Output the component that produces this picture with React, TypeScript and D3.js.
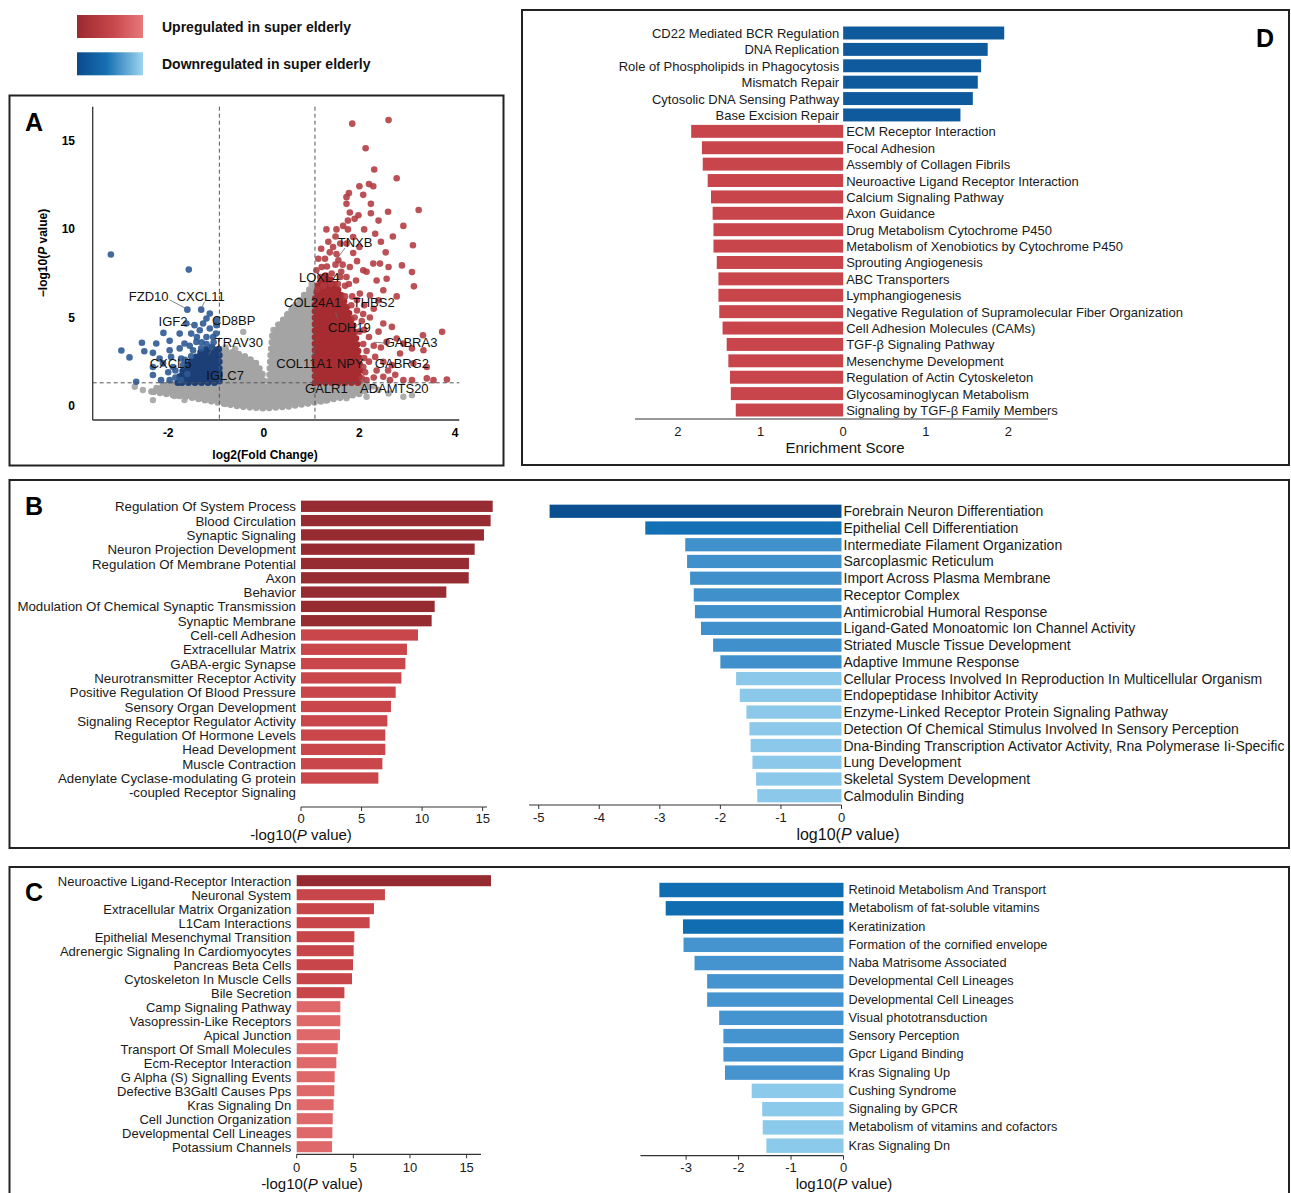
import React from 'react';
import * as d3 from 'd3';

const FONT = "'Liberation Sans', Arial, Helvetica, sans-serif";

// legend
const legendItems = ['Upregulated in super elderly', 'Downregulated in super elderly'];

// ---------- panel A : volcano plot ----------
const fcCutoffs = [-0.93, 1.07];
const pCutoff = 1.3;
const xTicksA = [-2, 0, 2, 4];
const yTicksA = [0, 5, 10, 15];

// outline of the dense grey (not significant) cloud, [log2FC, -log10 p]
const greyCloud: [number, number][] = [
  [-2.35, 0.8], [-2.3, 0.95], [-2.0, 1.25], [-0.93, 1.3], [-0.93, 3.2], [-0.6, 3.0], [-0.35, 2.75],
  [-0.15, 2.4], [-0.03, 1.8], [0.03, 1.0], [0.07, 0.5], [0.11, 1.3], [0.14, 2.8], [0.18, 4.0],
  [0.35, 4.7], [0.6, 5.5], [0.85, 6.3], [1.07, 6.7], [1.07, 1.3], [2.0, 1.3], [2.2, 1.05],
  [2.05, 0.7], [1.6, 0.45], [1.0, 0.15], [0.5, -0.05], [0.0, -0.15], [-0.5, -0.05], [-1.0, 0.2],
  [-1.5, 0.45], [-2.0, 0.65],
];
const greyPoints: [number, number][] = [
  [-2.53, 0.89], [-2.7, 1.08], [-2.32, 0.32], [-2.04, 0.7], [-1.87, 0.55], [-1.66, 0.32], [-1.34, 0.42],
  [-1.06, 0.7], [-0.64, 0.23], [2.15, 0.51], [2.92, 0.51], [3.1, 0.6], [2.61, 0.7], [1.98, 0.79],
  [-0.43, 4.19], [1.73, 0.42], [-1.2, 0.35], [-0.8, 0.1], [1.3, 0.3], [1.8, 0.6], [2.3, 1.1],
  [-0.2, 2.3], [-0.6, 3.2], [0.3, 4.6], [0.7, 5.7], [0.95, 6.6], [-2.1, 0.95], [-1.75, 0.9],
  [-0.8, 3.3], [0.5, 5.2], [1.0, 6.9], [0.2, 4.3], [-0.3, 2.6], [2.4, 0.9],
];

// dense blue (down) core and single blue genes
const blueCloud: [number, number][] = [
  [-1.8, 1.3], [-1.75, 1.8], [-1.6, 2.3], [-1.45, 2.7], [-1.3, 3.1], [-1.1, 3.3], [-0.93, 3.2], [-0.93, 1.3],
];
const bluePoints: [number, number][] = [
  [-3.2, 8.58], [-1.57, 7.72], [-1.6, 5.45], [-1.31, 5.45], [-1.13, 5.23], [-0.98, 4.85], [-1.62, 4.66],
  [-1.45, 4.57], [-1.27, 4.66], [-1.13, 4.38], [-0.99, 4.57], [-2.1, 4.13], [-1.76, 4.09], [-1.52, 4.09],
  [-1.34, 4.28], [-1.2, 3.9], [-1.06, 3.9], [-2.55, 3.57], [-2.25, 3.53], [-1.97, 3.68], [-1.66, 3.53],
  [-1.41, 3.62], [-2.98, 3.13], [-2.5, 3.09], [-2.32, 3.0], [-1.97, 3.15], [-1.76, 3.25], [-1.48, 3.15],
  [-1.31, 3.25], [-1.1, 3.34], [-2.81, 2.74], [-2.18, 2.68], [-1.94, 2.77], [-1.73, 2.68], [-1.52, 2.81],
  [-2.32, 2.2], [-2.11, 2.4], [-1.9, 2.2], [-1.69, 2.3], [-2.67, 1.36], [-2.32, 1.74], [-2.15, 1.45],
  [-1.97, 1.45], [-1.73, 1.45], [-1.0, 4.1], [-1.2, 4.95], [-1.4, 3.9], [-1.55, 3.4], [-1.85, 2.0],
  [-2.0, 1.9], [-1.6, 1.8], [-1.3, 3.6], [-1.05, 3.6], [-1.85, 1.6], [-1.65, 2.6], [-1.2, 3.5],
];

// dense red (up) core and single red genes
const redCloud: [number, number][] = [
  [1.07, 1.3], [1.07, 6.0], [1.15, 7.0], [1.3, 7.4], [1.45, 7.0], [1.6, 6.4], [1.75, 5.5],
  [1.88, 4.5], [1.97, 3.2], [2.02, 2.0], [1.98, 1.3],
];
const redPoints: [number, number][] = [
  [2.61, 16.2], [1.85, 16.0], [2.13, 14.6], [2.31, 13.4], [2.78, 12.9], [2.0, 12.45], [2.2, 12.57],
  [2.29, 12.45], [1.78, 12.06], [1.73, 11.83], [2.08, 11.96], [1.73, 11.45], [2.24, 11.45], [3.24, 11.1],
  [1.8, 10.96], [1.98, 10.8], [2.24, 10.92], [1.76, 10.5], [1.66, 10.2], [2.92, 10.2], [1.31, 10.0],
  [1.52, 10.0], [1.76, 10.0], [2.1, 10.0], [2.33, 9.75], [1.87, 9.57], [3.12, 9.1], [1.45, 9.0],
  [1.6, 9.2], [1.73, 9.2], [1.38, 8.7], [1.52, 8.6], [1.87, 8.66], [1.14, 8.34], [1.28, 8.34],
  [1.56, 8.25], [2.29, 8.06], [2.43, 8.06], [2.89, 7.96], [2.61, 7.87], [1.8, 7.87], [2.08, 7.68],
  [2.15, 7.6], [3.1, 7.58], [1.21, 7.87], [1.1, 7.68], [1.42, 7.5], [1.6, 7.3], [1.73, 7.3],
  [1.93, 7.1], [2.36, 7.1], [2.57, 7.2], [3.14, 6.77], [2.5, 6.55], [2.78, 6.2], [2.01, 6.36],
  [2.22, 6.26], [2.4, 5.98], [1.95, 6.0], [2.1, 5.7], [2.3, 5.5], [2.08, 5.2], [2.22, 5.0],
  [2.5, 4.66], [2.68, 4.47], [3.73, 4.19], [3.33, 4.0], [2.92, 3.53], [2.78, 3.81], [2.57, 3.62],
  [3.1, 3.25], [3.34, 3.15], [2.85, 2.96], [2.33, 2.77], [2.5, 2.49], [2.68, 2.3], [3.13, 2.4],
  [3.41, 2.2], [2.08, 2.2], [2.36, 2.0], [2.92, 1.45], [3.1, 1.45], [3.41, 1.55], [3.55, 1.45],
  [3.83, 1.49], [2.64, 1.45], [2.5, 1.64], [2.15, 1.45], [2.05, 1.55], [2.1, 4.3], [2.2, 3.9],
  [2.3, 3.4], [2.15, 3.1], [2.4, 4.2], [2.05, 4.8], [1.95, 5.4], [1.85, 6.2], [1.7, 6.8], [2.2, 2.5],
  [2.45, 3.3], [2.6, 2.0], [2.75, 1.75], [2.3, 1.6], [1.95, 8.2], [1.65, 8.0], [1.35, 9.3], [1.2, 8.9],
  [1.5, 9.6], [2.0, 9.0], [2.45, 9.3], [2.55, 8.7], [1.9, 10.6], [2.4, 10.5], [2.6, 11.0], [2.7, 9.6],
  [1.25, 6.8], [1.4, 6.9], [1.18, 7.3], [1.32, 7.9], [1.5, 8.0], [1.62, 7.6], [1.78, 6.9], [1.83, 5.7],
  [1.9, 5.0], [2.0, 4.2], [2.08, 3.5], [2.1, 2.7], [2.12, 1.9], [1.12, 6.6], [1.55, 6.9], [1.7, 6.2],
];

// gene annotations: label centre and leader line (both in data units)
const geneLabels: { gene: string; x: number; y: number }[] = [
  { gene: 'TNXB', x: 1.91, y: 9.23 }, { gene: 'LOXL4', x: 1.16, y: 7.3 },
  { gene: 'COL24A1', x: 1.02, y: 5.83 }, { gene: 'THBS2', x: 2.3, y: 5.83 },
  { gene: 'CDH19', x: 1.79, y: 4.41 }, { gene: 'GABRA3', x: 3.08, y: 3.56 },
  { gene: 'GABRG2', x: 2.89, y: 2.37 }, { gene: 'COL11A1', x: 0.85, y: 2.37 },
  { gene: 'NPY', x: 1.81, y: 2.37 }, { gene: 'GALR1', x: 1.31, y: 1.0 },
  { gene: 'ADAMTS20', x: 2.73, y: 1.0 }, { gene: 'FZD10', x: -2.41, y: 6.17 },
  { gene: 'CXCL11', x: -1.32, y: 6.17 }, { gene: 'IGF2', x: -1.9, y: 4.75 },
  { gene: 'CD8BP', x: -0.63, y: 4.86 }, { gene: 'TRAV30', x: -0.52, y: 3.56 },
  { gene: 'CXCL5', x: -1.95, y: 2.42 }, { gene: 'IGLC7', x: -0.81, y: 1.74 },
];
const leaders: [number, number, number, number][] = [
  [-1.97, 6.0, -1.62, 5.5], [-1.24, 5.9, -1.31, 5.5], [-1.57, 4.63, -1.45, 4.57],
  [-1.07, 3.27, -1.15, 2.9], [1.7, 8.95, 1.55, 8.4], [2.52, 3.56, 2.3, 3.6],
  [1.0, 2.8, 1.07, 3.2], [2.18, 1.29, 2.05, 1.55], [1.55, 4.9, 1.5, 5.3],
];

// ---------- panel B ----------
const bUpTerms = [
  'Regulation Of System Process', 'Blood Circulation', 'Synaptic Signaling', 'Neuron Projection Development',
  'Regulation Of Membrane Potential', 'Axon', 'Behavior', 'Modulation Of Chemical Synaptic Transmission',
  'Synaptic Membrane', 'Cell-cell Adhesion', 'Extracellular Matrix', 'GABA-ergic Synapse',
  'Neurotransmitter Receptor Activity', 'Positive Regulation Of Blood Pressure', 'Sensory Organ Development',
  'Signaling Receptor Regulator Activity', 'Regulation Of Hormone Levels', 'Head Development',
  'Muscle Contraction', 'Adenylate Cyclase-modulating G protein\n-coupled Receptor Signaling',
];
const bUpValues = [15.83, 15.66, 15.11, 14.34, 13.87, 13.85, 12.0, 11.04, 10.79, 9.66, 8.75, 8.62, 8.29, 7.82, 7.43, 7.13, 6.96, 6.96, 6.72, 6.39];

const bDownTerms = [
  'Forebrain Neuron Differentiation', 'Epithelial Cell Differentiation', 'Intermediate Filament Organization',
  'Sarcoplasmic Reticulum', 'Import Across Plasma Membrane', 'Receptor Complex', 'Antimicrobial Humoral Response',
  'Ligand-Gated Monoatomic Ion Channel Activity', 'Striated Muscle Tissue Development', 'Adaptive Immune Response',
  'Cellular Process Involved In Reproduction In Multicellular Organism', 'Endopeptidase Inhibitor Activity',
  'Enzyme-Linked Receptor Protein Signaling Pathway', 'Detection Of Chemical Stimulus Involved In Sensory Perception',
  'Dna-Binding Transcription Activator Activity, Rna Polymerase Ii-Specific', 'Lung Development',
  'Skeletal System Development', 'Calmodulin Binding',
];
const bDownValues = [-4.82, -3.24, -2.58, -2.55, -2.5, -2.44, -2.42, -2.32, -2.12, -2.0, -1.74, -1.68, -1.57, -1.52, -1.5, -1.47, -1.41, -1.39];

// ---------- panel C ----------
const cUpTerms = [
  'Neuroactive Ligand-Receptor Interaction', 'Neuronal System', 'Extracellular Matrix Organization',
  'L1Cam Interactions', 'Epithelial Mesenchymal Transition', 'Adrenergic Signaling In Cardiomyocytes',
  'Pancreas Beta Cells', 'Cytoskeleton In Muscle Cells', 'Bile Secretion', 'Camp Signaling Pathway',
  'Vasopressin-Like Receptors', 'Apical Junction', 'Transport Of Small Molecules', 'Ecm-Receptor Interaction',
  'G Alpha (S) Signalling Events', 'Defective B3Galtl Causes Pps', 'Kras Signaling Dn',
  'Cell Junction Organization', 'Developmental Cell Lineages', 'Potassium Channels',
];
const cUpValues = [17.15, 7.79, 6.82, 6.44, 5.09, 5.03, 4.97, 4.88, 4.21, 3.85, 3.85, 3.82, 3.62, 3.5, 3.35, 3.32, 3.26, 3.18, 3.15, 3.12];

const cDownTerms = [
  'Retinoid Metabolism And Transport', 'Metabolism of fat-soluble vitamins', 'Keratinization',
  'Formation of the cornified envelope', 'Naba Matrisome Associated', 'Developmental Cell Lineages',
  'Developmental Cell Lineages', 'Visual phototransduction', 'Sensory Perception', 'Gpcr Ligand Binding',
  'Kras Signaling Up', 'Cushing Syndrome', 'Signaling by GPCR', 'Metabolism of vitamins and cofactors',
  'Kras Signaling Dn',
];
const cDownValues = [-3.51, -3.39, -3.06, -3.05, -2.84, -2.6, -2.6, -2.37, -2.29, -2.29, -2.26, -1.75, -1.55, -1.54, -1.47];

// ---------- panel D ----------
const dTerms = [
  'CD22 Mediated BCR Regulation', 'DNA Replication', 'Role of Phospholipids in Phagocytosis', 'Mismatch Repair',
  'Cytosolic DNA Sensing Pathway', 'Base Excision Repair', 'ECM Receptor Interaction', 'Focal Adhesion',
  'Assembly of Collagen Fibrils', 'Neuroactive Ligand Receptor Interaction', 'Calcium Signaling Pathway',
  'Axon Guidance', 'Drug Metabolism Cytochrome P450', 'Metabolism of Xenobiotics by Cytochrome P450',
  'Sprouting Angiogenesis', 'ABC Transporters', 'Lymphangiogenesis',
  'Negative Regulation of Supramolecular Fiber Organization', 'Cell Adhesion Molecules (CAMs)',
  'TGF-β Signaling Pathway', 'Mesenchyme Development', 'Regulation of Actin Cytoskeleton',
  'Glycosaminoglycan Metabolism', 'Signaling by TGF-β Family Members',
];
const dScores = [1.95, 1.75, 1.67, 1.63, 1.57, 1.42, -1.84, -1.71, -1.7, -1.64, -1.6, -1.58, -1.57, -1.57, -1.53, -1.51, -1.51, -1.5, -1.46, -1.41, -1.39, -1.37, -1.36, -1.3];

const pTitle = (prefix: string) => (
  <>
    {prefix}(<tspan fontStyle="italic">P</tspan> value)
  </>
);

type BarProps = {
  terms: string[];
  values: number[];
  color: (v: number, i: number) => string;
  xDomain: [number, number];
  xRange: [number, number];
  yRange: [number, number];
  axisY: number;
  ticks: number[];
  tickFmt?: (t: number) => string;
  tickLabelY: number;
  tickMarks: boolean;
  tickFont: number;
  labelSize: number;
  gapLeft: number;
  gapRight: number;
  title: React.ReactNode;
  titleX: number;
  titleY: number;
  titleSize: number;
};

function BarPanel(p: BarProps) {
  const x = d3.scaleLinear().domain(p.xDomain).range(p.xRange);
  const y = d3.scaleBand<number>()
    .domain(d3.range(p.terms.length))
    .range(p.yRange)
    .paddingInner(0.21)
    .paddingOuter(0.105);
  const x0 = x(0);
  const fmt = p.tickFmt || ((t: number) => String(t));
  return (
    <g fontFamily={FONT}>
      {p.values.map((v, i) => (
        <rect key={'b' + i} x={Math.min(x0, x(v))} y={y(i)} width={Math.abs(x(v) - x0)}
          height={y.bandwidth()} fill={p.color(v, i)} />
      ))}
      {p.terms.map((t, i) => {
        const right = p.values[i] < 0;
        const tx = right ? x0 + p.gapRight : x0 - p.gapLeft;
        const cy = (y(i) as number) + y.bandwidth() / 2;
        return (
          <text key={'t' + i} x={tx} y={cy} fontSize={p.labelSize} fill="#1a1a1a"
            textAnchor={right ? 'start' : 'end'} dominantBaseline="central">
            {t.split('\n').map((line, k) => (
              <tspan key={k} x={tx} dy={k === 0 ? 0 : y.step()}>{line}</tspan>
            ))}
          </text>
        );
      })}
      <line x1={p.xRange[0]} x2={p.xRange[1]} y1={p.axisY} y2={p.axisY} stroke="#333" strokeWidth={1.2} />
      {p.ticks.map((t) => (
        <g key={'k' + t}>
          {p.tickMarks && <line x1={x(t)} x2={x(t)} y1={p.axisY} y2={p.axisY + 4} stroke="#333" strokeWidth={1} />}
          <text x={x(t)} y={p.tickLabelY} fontSize={p.tickFont} textAnchor="middle"
            dominantBaseline="central" fill="#1a1a1a">{fmt(t)}</text>
        </g>
      ))}
      <text x={p.titleX} y={p.titleY} fontSize={p.titleSize} textAnchor="middle"
        dominantBaseline="central" fill="#111">{p.title}</text>
    </g>
  );
}

function Volcano() {
  const x = d3.scaleLinear().domain([-3.58, 4.09]).range([92.7, 459.3]);
  const y = d3.scaleLinear().domain([-0.81, 16.96]).range([420, 106.7]);
  const area = d3.line<[number, number]>().x((d) => x(d[0])).y((d) => y(d[1])).curve(d3.curveLinearClosed);
  const grey = '#a4a4a4';
  // a filled core whose outline is beaded with dots, like an overplotted point cloud
  const cloud = (pts: [number, number][], col: string) => (
    <g>
      <path d={area(pts) || ''} fill={col} stroke={col} strokeWidth={2} strokeLinejoin="round" />
      <path d={area(pts) || ''} fill="none" stroke={col} strokeWidth={6.6} strokeLinecap="round"
        strokeDasharray="0 6.5" />
    </g>
  );
  return (
    <g fontFamily={FONT}>
      {cloud(greyCloud, grey)}
      {greyPoints.map((d, i) => <circle key={'g' + i} cx={x(d[0])} cy={y(d[1])} r={3.2} fill={grey} opacity={0.9} />)}
      {cloud(blueCloud, '#1c3f78')}
      {bluePoints.map((d, i) => <circle key={'bl' + i} cx={x(d[0])} cy={y(d[1])} r={3.3} fill="#2d5a94" opacity={0.9} />)}
      {cloud(redCloud, '#a72c32')}
      {redPoints.map((d, i) => <circle key={'r' + i} cx={x(d[0])} cy={y(d[1])} r={3.3} fill="#b2393f" opacity={0.88} />)}
      {fcCutoffs.map((c) => (
        <line key={'fc' + c} x1={x(c)} x2={x(c)} y1={106.7} y2={420} stroke="#555" strokeWidth={1} strokeDasharray="4,3" />
      ))}
      <line x1={92.7} x2={459.3} y1={y(pCutoff)} y2={y(pCutoff)} stroke="#555" strokeWidth={1} strokeDasharray="4,3" />
      {leaders.map((l, i) => (
        <line key={'l' + i} x1={x(l[0])} y1={y(l[1])} x2={x(l[2])} y2={y(l[3])} stroke="#666" strokeWidth={0.8} />
      ))}
      {geneLabels.map((g) => (
        <text key={g.gene} x={x(g.x)} y={y(g.y)} fontSize={13} textAnchor="middle" dominantBaseline="central" fill="#111">{g.gene}</text>
      ))}
      <line x1={92.7} x2={92.7} y1={106.7} y2={420} stroke="#333" strokeWidth={1.3} />
      <line x1={92.7} x2={459.3} y1={420} y2={420} stroke="#333" strokeWidth={1.3} />
      {xTicksA.map((t) => (
        <text key={'xt' + t} x={x(t)} y={433} fontSize={12} fontWeight="bold" textAnchor="middle" dominantBaseline="central">{t}</text>
      ))}
      {yTicksA.map((t) => (
        <text key={'yt' + t} x={75} y={y(t)} fontSize={12} fontWeight="bold" textAnchor="end" dominantBaseline="central">{t}</text>
      ))}
      <text x={265} y={455} fontSize={12} fontWeight="bold" textAnchor="middle" dominantBaseline="central">log2(Fold Change)</text>
      <text transform="translate(43,253) rotate(-90)" fontSize={12} fontWeight="bold" textAnchor="middle" dominantBaseline="central">
        −log10(<tspan fontStyle="italic">P</tspan> value)
      </text>
    </g>
  );
}

export default function App() {
  return (
    <svg width={1291} height={1193} style={{ position: 'absolute', left: 0, top: 0, background: '#fff' }}
      fontFamily={FONT}>
      <defs>
        <linearGradient id="gradUp" x1="0" x2="1" y1="0" y2="0">
          <stop offset="0%" stopColor="#9b2a30" />
          <stop offset="55%" stopColor="#c8474b" />
          <stop offset="100%" stopColor="#e8797b" />
        </linearGradient>
        <linearGradient id="gradDown" x1="0" x2="1" y1="0" y2="0">
          <stop offset="0%" stopColor="#0b4a8b" />
          <stop offset="45%" stopColor="#1670b3" />
          <stop offset="100%" stopColor="#9dd4ef" />
        </linearGradient>
      </defs>
      <rect width={1291} height={1193} fill="#fff" />

      {/* legend */}
      {legendItems.map((t, i) => (
        <g key={t}>
          <rect x={77} y={15 + i * 37.3} width={66} height={23} fill={i === 0 ? 'url(#gradUp)' : 'url(#gradDown)'} />
          <text x={162} y={27 + i * 37.3} fontSize={14} fontWeight="bold" dominantBaseline="central" fill="#111">{t}</text>
        </g>
      ))}

      {/* panel frames */}
      <rect x={9.5} y={95.5} width={494} height={370} fill="none" stroke="#222" strokeWidth={2} />
      <rect x={522} y={10} width={767} height={455} fill="none" stroke="#222" strokeWidth={2} />
      <rect x={9.5} y={480} width={1279.5} height={368} fill="none" stroke="#222" strokeWidth={2} />
      <rect x={9.5} y={867} width={1279.5} height={360} fill="none" stroke="#222" strokeWidth={2} />

      <text x={25} y={131} fontSize={25} fontWeight="bold">A</text>
      <text x={25} y={515} fontSize={25} fontWeight="bold">B</text>
      <text x={25} y={901} fontSize={25} fontWeight="bold">C</text>
      <text x={1256} y={47} fontSize={25} fontWeight="bold">D</text>

      <Volcano />

      {/* D: enrichment scores */}
      <BarPanel terms={dTerms} values={dScores}
        color={(v) => (v > 0 ? '#0f5a9c' : '#c8464b')}
        xDomain={[-2.52, 2.48]} xRange={[635, 1048]} yRange={[24.8, 418.2]} axisY={419}
        ticks={[-2, -1, 0, 1, 2]} tickFmt={(t) => String(Math.abs(t))} tickLabelY={431} tickMarks={false} tickFont={13}
        labelSize={13} gapLeft={4} gapRight={3}
        title="Enrichment Score" titleX={845} titleY={447} titleSize={15} />

      {/* B left: up */}
      <BarPanel terms={bUpTerms} values={bUpValues}
        color={(v, i) => (i < 9 ? '#962b31' : '#c9474b')}
        xDomain={[0, 15.36]} xRange={[301, 487]} yRange={[499.15, 785.15]} axisY={807}
        ticks={[0, 5, 10, 15]} tickLabelY={818} tickMarks={true} tickFont={13}
        labelSize={13.3} gapLeft={5} gapRight={3}
        title={pTitle('-log10')} titleX={301} titleY={834} titleSize={15} />

      {/* B right: down */}
      <BarPanel terms={bDownTerms} values={bDownValues}
        color={(v, i) => (i === 0 ? '#0b4f90' : i === 1 ? '#1470b4' : i < 10 ? '#4090cb' : '#8bc8ea')}
        xDomain={[-5.16, 0]} xRange={[529, 841.5]} yRange={[502.9, 804.1]} axisY={805}
        ticks={[-5, -4, -3, -2, -1, 0]} tickLabelY={817} tickMarks={true} tickFont={13}
        labelSize={14} gapLeft={3} gapRight={2}
        title={pTitle('log10')} titleX={848} titleY={834} titleSize={16} />

      {/* C left: up */}
      <BarPanel terms={cUpTerms} values={cUpValues}
        color={(v, i) => (i === 0 ? '#952a30' : i < 9 ? '#c8454a' : '#df686b')}
        xDomain={[0, 16.27]} xRange={[296.7, 481]} yRange={[873.7, 1153.7]} axisY={1154.3}
        ticks={[0, 5, 10, 15]} tickLabelY={1167} tickMarks={true} tickFont={13}
        labelSize={13} gapLeft={5.5} gapRight={3}
        title={pTitle('-log10')} titleX={312} titleY={1183} titleSize={15} />

      {/* C right: down */}
      <BarPanel terms={cDownTerms} values={cDownValues}
        color={(v, i) => (i < 3 ? '#106db2' : i < 11 ? '#4694cf' : '#8ccaeb')}
        xDomain={[-3.87, 0]} xRange={[640.5, 843.5]} yRange={[880.9, 1154.8]} axisY={1155.7}
        ticks={[-3, -2, -1, 0]} tickLabelY={1167} tickMarks={true} tickFont={13}
        labelSize={12.7} gapLeft={3} gapRight={5}
        title={pTitle('log10')} titleX={844} titleY={1183} titleSize={15} />
    </svg>
  );
}
